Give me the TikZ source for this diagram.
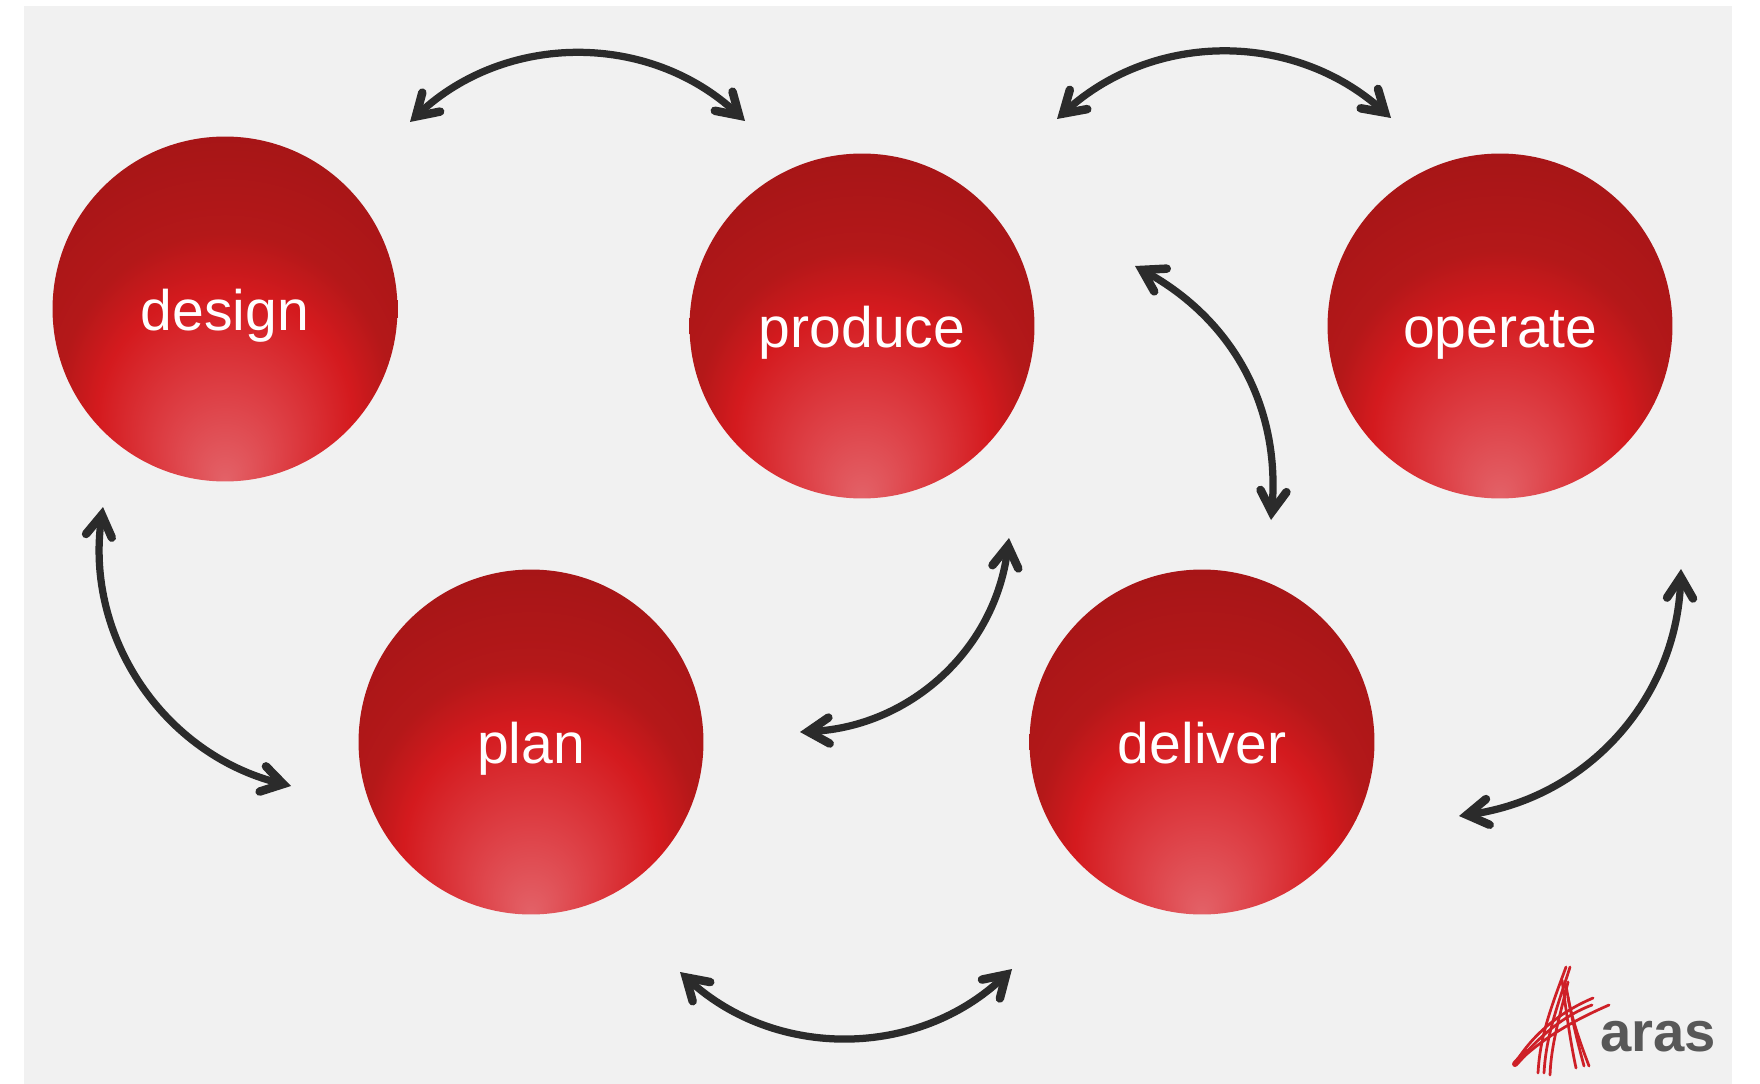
\documentclass[tikz,border=0pt]{standalone}
\usepackage{fontspec}
\setmainfont{Liberation Sans}
\usetikzlibrary{arrows.meta}
\definecolor{panelgray}{HTML}{F1F1F1}
\definecolor{arrowgray}{HTML}{2B2B2B}
\definecolor{logored}{HTML}{CE2027}
\definecolor{logogray}{HTML}{585858}
\definecolor{ballglow}{HTML}{E36268}
\definecolor{ballsoft}{HTML}{DE4248}
\definecolor{ballred}{HTML}{D41A1E}
\definecolor{ballmid}{HTML}{B41819}
\definecolor{ballside}{HTML}{A01416}
\definecolor{balltop}{HTML}{861012}
\pgfdeclareradialshading{redball}{\pgfpoint{0bp}{-25bp}}{%
	color(0bp)=(ballglow);
	color(8bp)=(ballsoft);
	color(18.5bp)=(ballred);
	color(24bp)=(ballmid);
	color(38bp)=(ballside);
	color(50bp)=(balltop)}
\tikzset{
	phase/.style={circle, minimum size=6.9cm, inner sep=0, shading=redball, text=white, font=\fontsize{32.5}{38}\selectfont, text height=24pt, text depth=0pt},
	link/.style={{Straight Barb[length=0.42cm, width=0.52cm, line width=0.17cm, line cap=round, line join=miter]}-{Straight Barb[length=0.42cm, width=0.52cm, line width=0.17cm, line cap=round, line join=miter]}, line width=0.145cm, draw=arrowgray},
	strand/.style={draw=logored, line width=0.055cm, line cap=round}
}
\begin{document}
\begin{tikzpicture}[x=0.02cm, y=-0.02cm]
	\useasboundingbox (0,0) rectangle (1760,1084);
	\fill[panelgray] (24,6) rectangle (1732,1084);
	% Phases
	\node[phase] (design) at (225,309) {design};
	\node[phase] (produce) at (862,326) {produce};
	\node[phase] (operate) at (1500,326) {operate};
	\node[phase] (plan) at (531,742) {plan};
	\node[phase] (deliver) at (1202,742) {deliver};
	% Arrow ends
	\coordinate (a1) at (410,122);
	\coordinate (a2) at (745,121);
	\coordinate (b1) at (1057,119);
	\coordinate (b2) at (1391,118);
	\coordinate (c1) at (1135,266);
	\coordinate (c2) at (1271,520);
	\coordinate (d1) at (103,507);
	\coordinate (d2) at (291,786);
	\coordinate (e1) at (1009,538);
	\coordinate (e2) at (800,732);
	\coordinate (f1) at (1681,569);
	\coordinate (f2) at (1459,816);
	\coordinate (g1) at (680,972);
	\coordinate (g2) at (1012,969);
	% Arrows
	\draw[link] (a1) to[bend left=43] (a2);
	\draw[link] (b1) to[bend left=42] (b2);
	\draw[link] (c1) to[bend left=33] (c2);
	\draw[link] (d1) to[bend right=42] (d2);
	\draw[link] (e1) to[bend left=40] (e2);
	\draw[link] (f1) to[bend left=40] (f2);
	\draw[link] (g1) to[bend right=43] (g2);
	% Logo
	\draw[strand] (1566,967) .. controls (1552,1005) and (1540,1035) .. (1538,1073);
	\draw[strand] (1570,967) .. controls (1558,1005) and (1546,1035) .. (1544,1073);
	\draw[strand] (1568,982) .. controls (1560,1015) and (1551,1045) .. (1550,1075);
	\draw[strand] (1562,980) .. controls (1566,1010) and (1570,1040) .. (1576,1068);
	\draw[strand] (1566,985) .. controls (1570,1012) and (1577,1040) .. (1584,1066);
	\draw[strand] (1568,997) .. controls (1572,1020) and (1581,1045) .. (1589,1066);
	\draw[strand] (1593,998) .. controls (1565,1010) and (1535,1030) .. (1514,1065);
	\draw[strand] (1592,1005) .. controls (1565,1015) and (1540,1035) .. (1515,1065);
	\draw[strand] (1609,1005) .. controls (1570,1022) and (1540,1040) .. (1515,1065);
	\draw[logored, line width=0.12cm, line cap=round] (1515,1064) -- (1526,1052);
	\node[text=logogray, font=\fontsize{32}{36}\bfseries\selectfont, inner sep=0] (aras) at (1658,1037) {aras};
\end{tikzpicture}
\end{document}
